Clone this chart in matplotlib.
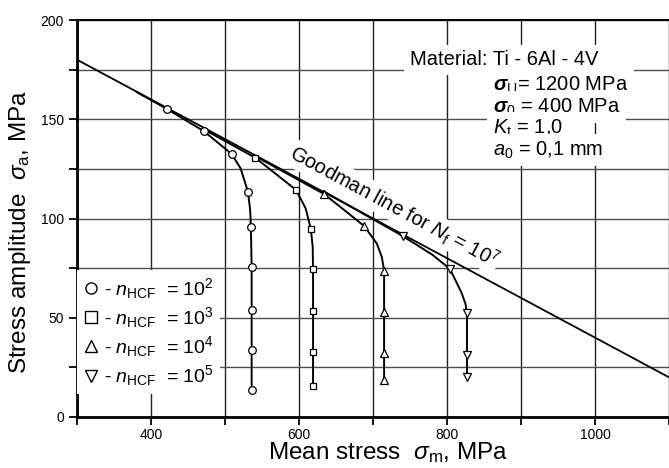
import numpy as np
import matplotlib
matplotlib.use("Agg")
import matplotlib.pyplot as plt
from matplotlib.lines import Line2D

plt.rcParams['font.family'] = ['Liberation Sans', 'DejaVu Sans']
plt.rcParams['mathtext.fontset'] = 'custom'
plt.rcParams['mathtext.rm'] = 'Liberation Sans'
plt.rcParams['mathtext.it'] = 'Liberation Sans:italic'
plt.rcParams['mathtext.bf'] = 'Liberation Sans:italic:bold'

# Goodman line for N_f = 1e7 (sigma_U = 1200 MPa)
goodman_x = [300, 1100]
goodman_y = [180, 20]

# n_HCF = 1e2 (circles)
circ_x = [421, 471, 509, 531, 535, 536, 536, 536, 536]
circ_y = [155.3, 144.1, 132.5, 113.5, 95.6, 75.4, 53.9, 33.8, 13.6]
circ_path_x = [381, 421, 471, 509, 521, 531, 534, 535, 536, 536]
circ_path_y = [163.6, 155.3, 144.1, 132.5, 125.3, 113.5, 104.3, 95.6, 75.4, 13.6]

# n_HCF = 1e3 (squares)
sq_x = [541, 596, 616, 619, 619, 619, 619]
sq_y = [130.6, 114.4, 94.7, 74.4, 53.4, 32.9, 15.6]
sq_path_x = [470, 541, 596, 609, 616, 618.5, 619, 619]
sq_path_y = [145.2, 130.6, 114.4, 105.1, 94.7, 85.8, 74.4, 15.6]

# n_HCF = 1e4 (triangles up)
tu_x = [634, 688, 715, 715, 715, 715]
tu_y = [112.3, 96.2, 73.7, 53.0, 32.0, 18.5]
tu_path_x = [540, 634, 664, 688, 705, 712, 715, 715]
tu_path_y = [131.6, 112.3, 103.4, 96.2, 87.5, 80.5, 73.7, 18.5]

# n_HCF = 1e5 (triangles down)
td_x = [740, 804, 827, 827, 827]
td_y = [91.2, 74.6, 52.2, 31.2, 20.3]
td_path_x = [633, 740, 780, 804, 820, 825, 827, 827]
td_path_y = [113.8, 91.2, 81.8, 74.6, 62.3, 57.0, 52.2, 20.3]

x_ticks = [300, 400, 500, 600, 700, 800, 900, 1000, 1100]
x_ticklabels = ['', '400', '', '600', '', '800', '', '1000', '']
y_ticks = [0, 25, 50, 75, 100, 125, 150, 175, 200]
y_ticklabels = ['0', '', '50', '', '100', '', '150', '', '200']

fig = plt.figure(figsize=(6.69, 4.68), dpi=100)
ax = fig.add_axes([77 / 669, 1 - 417 / 468, 1 - 77 / 669, 397 / 468])

ax.set_xlim(300, 1100)
ax.set_ylim(0, 200)
ax.set_xticks(x_ticks)
ax.set_xticklabels(x_ticklabels)
ax.set_yticks(y_ticks)
ax.set_yticklabels(y_ticklabels)
ax.tick_params(direction='out', length=6, width=1.3, labelsize=10)
ax.tick_params(axis='x', pad=2)

ax.set_axisbelow(True)
ax.grid(True, axis='x', color='#222222', linewidth=1.0)
ax.grid(True, axis='y', color='#4d4d4d', linewidth=1.0)

for side in ['left', 'bottom']:
    ax.spines[side].set_linewidth(2.0)
ax.spines['top'].set_linewidth(1.5)
ax.spines['right'].set_visible(False)

ax.plot(goodman_x, goodman_y, color='black', lw=1.3, zorder=4)

series = [
    (circ_path_x, circ_path_y, circ_x, circ_y, 'o', 5.5),
    (sq_path_x, sq_path_y, sq_x, sq_y, 's', 5.0),
    (tu_path_x, tu_path_y, tu_x, tu_y, '^', 5.5),
    (td_path_x, td_path_y, td_x, td_y, 'v', 5.5),
]
for px, py, mx, my, mk, ms in series:
    ax.plot(px, py, color='black', lw=1.4, zorder=5)
    ax.plot(mx, my, ls='none', marker=mk, ms=ms, mfc='white', mec='black',
            mew=0.9, zorder=6)

# Goodman label along the line
ax.text(585, 130.5, r'Goodman line for $N_{\rm f}$ = 10$^7$', fontsize=14.5,
        rotation=np.degrees(np.arctan2(-0.2, 1.0)), transform_rotates_text=True,
        rotation_mode='anchor', ha='left', va='baseline', zorder=3,
        bbox=dict(facecolor='white', edgecolor='none', pad=1))

# material info
box = dict(facecolor='white', edgecolor='none', pad=4)
ax.text(750, 180, 'Material: Ti - 6Al - 4V', fontsize=14.5, va='center',
        ha='left', bbox=box, zorder=3)
info = [r'$\mathbf{\sigma}_{\rm U}$= 1200 MPa', r'$\mathbf{\sigma}_0$ = 400 MPa',
        r'$K_{\rm t}$ = 1,0', r'$a_0$ = 0,1 mm']
info_y = [167.3, 156.2, 145.6, 134.5]
for s, yy in zip(info, info_y):
    ax.text(862, yy, s, fontsize=14.5, va='center', ha='left', bbox=box, zorder=3)

# legend
handles = [
    Line2D([], [], ls='none', marker='o', ms=8, mfc='white', mec='black', mew=1),
    Line2D([], [], ls='none', marker='s', ms=8, mfc='white', mec='black', mew=1),
    Line2D([], [], ls='none', marker='^', ms=8.5, mfc='white', mec='black', mew=1),
    Line2D([], [], ls='none', marker='v', ms=8.5, mfc='white', mec='black', mew=1),
]
labels = [r'- $n_{\rm HCF}$  = 10$^2$', r'- $n_{\rm HCF}$  = 10$^3$',
          r'- $n_{\rm HCF}$  = 10$^4$', r'- $n_{\rm HCF}$  = 10$^5$']
leg = ax.legend(handles, labels, loc='upper left', bbox_to_anchor=(0.0, 0.37),
                fontsize=14, frameon=True, facecolor='white', edgecolor='none',
                framealpha=1, fancybox=False, borderaxespad=0, borderpad=0.3,
                handlelength=0.8, handletextpad=0.3, labelspacing=0.22)
leg.set_zorder(7)

fig.text(388 / 669, 1 - 453 / 468, r'Mean stress  $\sigma_{\rm m}$, MPa',
         fontsize=17.5, ha='center', va='center')
fig.text(20 / 669, 1 - 232 / 468, r'Stress amplitude  $\sigma_{\rm a}$, MPa',
         fontsize=17.5, ha='center', va='center', rotation=90)

fig.savefig('out.png', dpi=100)
